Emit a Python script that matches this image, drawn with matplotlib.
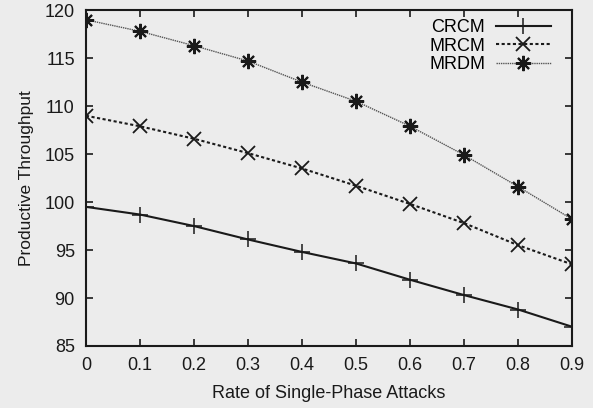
import matplotlib
matplotlib.use("Agg")
import matplotlib.pyplot as plt

plt.rcParams['font.family'] = ['Liberation Sans', 'DejaVu Sans']

rate = [0, 0.1, 0.2, 0.3, 0.4, 0.5, 0.6, 0.7, 0.8, 0.9]
crcm = [99.5, 98.7, 97.5, 96.1, 94.8, 93.6, 91.9, 90.3, 88.8, 87.0]
mrcm = [109.0, 107.9, 106.6, 105.1, 103.5, 101.7, 99.8, 97.8, 95.5, 93.5]
mrdm = [119.0, 117.8, 116.3, 114.7, 112.5, 110.5, 107.9, 104.9, 101.6, 98.2]
xticks = [0, 0.1, 0.2, 0.3, 0.4, 0.5, 0.6, 0.7, 0.8, 0.9]
xticklabels = ['0', '0.1', '0.2', '0.3', '0.4', '0.5', '0.6', '0.7', '0.8', '0.9']
yticks = [85, 90, 95, 100, 105, 110, 115, 120]

bg = '#ececec'
ink = '#1a1a1a'
fig = plt.figure(figsize=(5.93, 4.08), dpi=100, facecolor=bg)
ax = fig.add_axes([0.145, 0.152, 0.82, 0.823], facecolor=bg)

ax.plot(rate, crcm, color=ink, lw=1.5, marker='+', ms=11, mew=1.1, label='CRCM')
ax.plot(rate, mrcm, color=ink, lw=1.5, ls=(0, (1.5, 1.2)), marker='x', ms=10, mew=1.3, label='MRCM')
ax.plot(rate, mrdm, color='#555555', lw=1.0, ls=(0, (1, 0.6)), marker=(8, 2, 0), ms=11, mew=1.5,
        mec=ink, label='MRDM')

ax.set_xlim(0, 0.9)
ax.set_ylim(85, 120)
ax.set_xticks(xticks)
ax.set_xticklabels(xticklabels)
ax.set_yticks(yticks)
ax.tick_params(direction='in', top=True, right=True, length=5, width=1.2, labelsize=13, pad=8, colors=ink)
for s in ax.spines.values():
    s.set_linewidth(1.5)
    s.set_color(ink)

ax.set_xlabel('Rate of Single-Phase Attacks', fontsize=13, color=ink, labelpad=8)
ax.set_ylabel('Productive Throughput', fontsize=12.5, color=ink, labelpad=8)

ax.legend(loc='upper right', bbox_to_anchor=(0.971, 0.995), frameon=False, markerfirst=False, fontsize=13,
          handlelength=3.05, labelspacing=0.08, borderaxespad=0, handletextpad=0.6)

fig.savefig('out.png', dpi=100, facecolor=bg)
